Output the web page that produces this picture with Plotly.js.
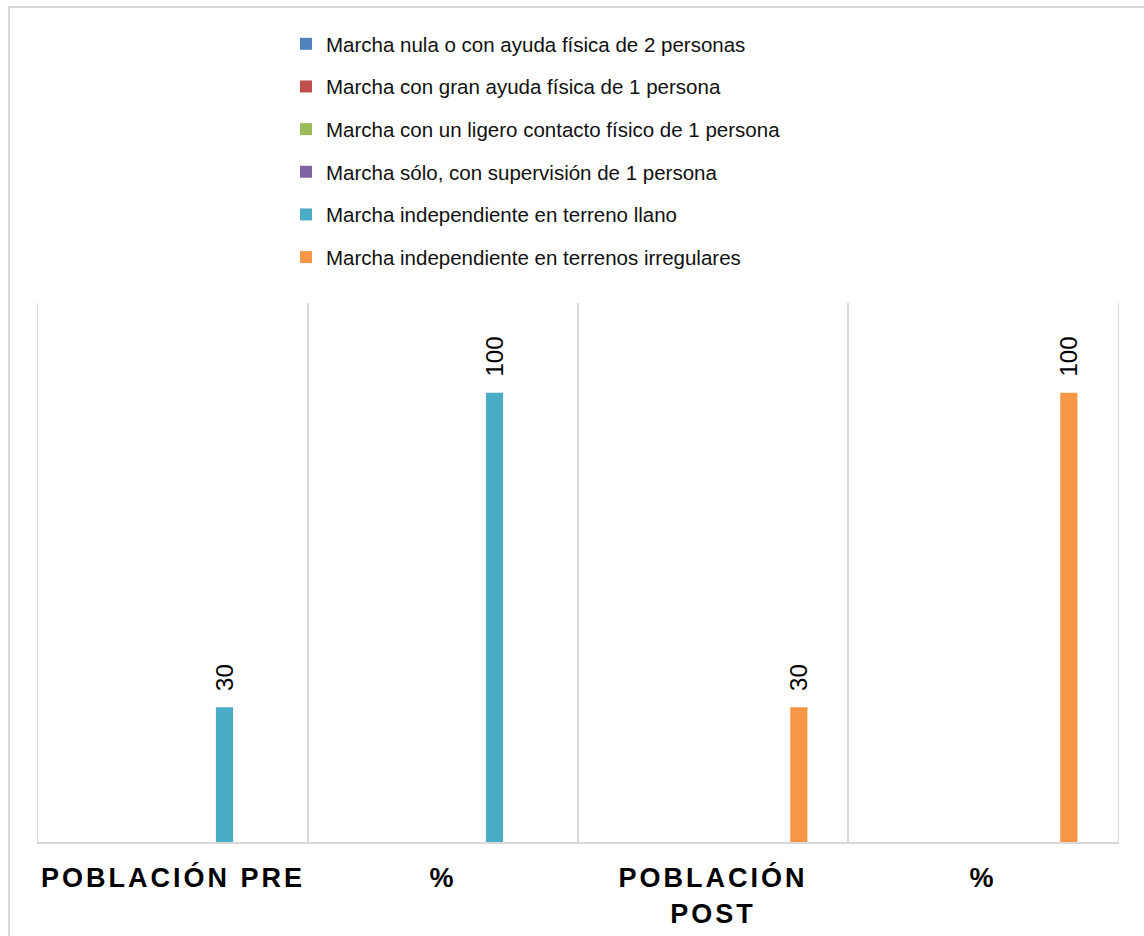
<!DOCTYPE html>
<html>
<head>
<meta charset="utf-8">
<script src="https://cdn.plot.ly/plotly-3.0.1.min.js"></script>
<style>
  html, body { margin: 0; padding: 0; background: #fff; overflow: hidden; }
  #wrap { position: relative; width: 1144px; height: 936px; }
  #chart { width: 1144px; height: 936px; }
  #frame {
    position: absolute; left: 8px; top: 6px; width: 1200px; height: 1000px;
    border: 2px solid #d9d9d9; pointer-events: none; box-sizing: border-box;
  }
  .xtick text { letter-spacing: 3px; }
</style>
</head>
<body>
<div id="wrap">
  <div id="chart"></div>
  <div id="frame"></div>
</div>
<script>
// Category keys (unique) and the labels shown under each group
const categoryKeys = ['pre_n', 'pre_pct', 'post_n', 'post_pct'];
const tickLabels = ['POBLACIÓN PRE', '%', 'POBLACIÓN<br>POST', '%'];

// Gait levels (one series each)
const seriesNames = [
  'Marcha nula o con ayuda física de 2 personas',
  'Marcha con gran ayuda física de 1 persona',
  'Marcha con un ligero contacto físico de 1 persona',
  'Marcha sólo, con supervisión de 1 persona',
  'Marcha independiente en terreno llano',
  'Marcha independiente en terrenos irregulares'
];
const seriesColors = ['#4F81BD', '#C0504D', '#9BBB59', '#8064A2', '#4BACC6', '#F79646'];

// Values per category for each series (null = no bar)
const marchaNula        = [null, null, null, null];
const granAyuda         = [null, null, null, null];
const ligeroContacto    = [null, null, null, null];
const supervision       = [null, null, null, null];
const terrenoLlano      = [30, 100, null, null];
const terrenosIrregular = [null, null, 30, 100];

const seriesValues = [marchaNula, granAyuda, ligeroContacto, supervision, terrenoLlano, terrenosIrregular];

const FONT = 'Liberation Sans, Arial, sans-serif';

const traces = seriesNames.map((name, i) => ({
  type: 'bar',
  name: name,
  legendgroup: 'g' + i,
  x: categoryKeys,
  y: seriesValues[i],
  marker: { color: seriesColors[i] },
  texttemplate: '\u00a0\u00a0%{y}',
  textposition: 'outside',
  textangle: -90,
  constraintext: 'none',
  cliponaxis: false,
  textfont: { family: FONT, size: 24, color: '#000' },
  hoverinfo: 'name+y'
}));

const layout = {
  width: 1144,
  height: 936,
  paper_bgcolor: '#fff',
  plot_bgcolor: '#fff',
  margin: { l: 38, r: 26, t: 303, b: 94, autoexpand: false },
  barmode: 'group',
  bargap: 0.237,
  bargroupgap: 0.5,
  font: { family: FONT, color: '#000' },
  showlegend: true,
  legend: {
    orientation: 'v',
    x: (286 - 38) / 1080, xanchor: 'left',
    y: 1 + (303 - 24) / 539, yanchor: 'top',
    font: { family: FONT, size: 20.5, color: '#111' },
    tracegroupgap: 13,
    traceorder: 'grouped',
    bgcolor: 'rgba(0,0,0,0)'
  },
  xaxis: {
    type: 'category',
    categoryorder: 'array',
    categoryarray: categoryKeys,
    tickmode: 'array',
    tickvals: categoryKeys,
    ticktext: tickLabels,
    tickson: 'boundaries',
    tickangle: 0,
    ticks: '',
    ticklabelstandoff: 11,
    automargin: false,
    showgrid: true,
    gridcolor: '#d9d9d9',
    gridwidth: 1.3,
    showline: true,
    linecolor: '#d9d9d9',
    linewidth: 2,
    tickfont: { family: FONT, size: 27, color: '#000', weight: 'bold' },
    fixedrange: true
  },
  yaxis: {
    range: [0, 120],
    automargin: false,
    showgrid: false,
    zeroline: false,
    showticklabels: false,
    ticks: '',
    showline: true,
    mirror: true,
    linecolor: '#d9d9d9',
    linewidth: 1.3,
    fixedrange: true
  }
};

Plotly.newPlot('chart', traces, layout, { displayModeBar: false, staticPlot: true });
</script>
</body>
</html>
